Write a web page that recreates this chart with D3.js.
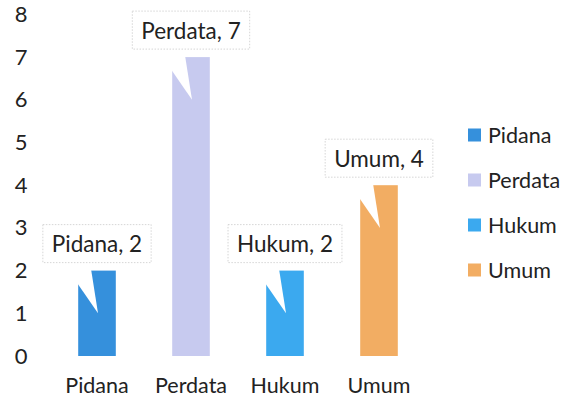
<!DOCTYPE html>
<html>
<head>
<meta charset="utf-8">
<script src="https://cdn.jsdelivr.net/npm/d3@7"></script>
<style>
    body { margin: 0; background: #fff; }
    text { font-family: Lato, "Open Sans", sans-serif; fill: #222; }
</style>
</head>
<body>
<svg width="575" height="405"></svg>
<script>
let categories = ["Pidana", "Perdata", "Hukum", "Umum"];
let values = [2, 7, 2, 4];
let colors = ["#3590dc", "#c7caef", "#3ba9ef", "#f2ad63"];
let yTicks = [0, 1, 2, 3, 4, 5, 6, 7, 8];

let svg = d3.select("svg");

let x = d3.scaleBand()
    .domain(categories)
    .range([50, 426])
    .paddingInner(0.6)
    .paddingOuter(0.3);

let y = d3.scaleLinear()
    .domain([0, 8])
    .range([356, 14.4]);

// y axis labels only, no line
let yAxis = svg.append("g")
    .attr("transform", "translate(28,0)")
    .call(d3.axisLeft(y).tickValues(yTicks).tickSize(0).tickPadding(0));
yAxis.select(".domain").remove();
yAxis.selectAll("text")
    .style("font-size", "22px")
    .attr("text-anchor", "middle")
    .attr("dx", "-7");

let xAxis = svg.append("g")
    .attr("transform", "translate(0,375)")
    .call(d3.axisBottom(x).tickSize(0).tickPadding(0));
xAxis.select(".domain").remove();
xAxis.selectAll("text")
    .style("font-size", "21.5px")
    .attr("dy", "0.85em");

let data = categories.map(function (c, i) { return { name: c, value: values[i], color: colors[i] }; });

svg.append("g")
    .selectAll("rect")
    .data(data)
    .enter()
    .append("rect")
    .attr("x", function (d) { return x(d.name); })
    .attr("y", function (d) { return y(d.value); })
    .attr("width", x.bandwidth())
    .attr("height", function (d) { return y(0) - y(d.value); })
    .attr("fill", function (d) { return d.color; });

// callouts
let callouts = svg.append("g")
    .selectAll("g")
    .data(data)
    .enter()
    .append("g")
    .attr("transform", function (d) {
        return "translate(" + (x(d.name) + x.bandwidth() / 2) + "," + y(d.value) + ")";
    });

callouts.append("path")
    .attr("d", function (d) {
        let tipY = y(d.value - 1) - y(d.value);
        return "M-34,-8 L-7,-8 L1," + tipY + " Z";
    })
    .attr("fill", "#fff");

callouts.append("text")
    .attr("y", -26)
    .attr("dy", "0.35em")
    .attr("text-anchor", "middle")
    .style("font-size", "22.5px")
    .text(function (d) { return d.name + ", " + d.value; })
    .each(function () {
        let bb = this.getBBox();
        d3.select(this.parentNode).insert("rect", "text")
            .attr("x", bb.x - 9)
            .attr("y", -46)
            .attr("width", bb.width + 18)
            .attr("height", 38)
            .attr("fill", "#fff")
            .attr("stroke", "#ccc")
            .attr("stroke-width", 0.8)
            .attr("stroke-dasharray", "1.5,1.5");
    });

// legend
let legend = svg.append("g")
    .selectAll("g")
    .data(data)
    .enter()
    .append("g")
    .attr("transform", function (d, i) { return "translate(468," + (135 + i * 45) + ")"; });

legend.append("rect")
    .attr("x", 0)
    .attr("y", -6.5)
    .attr("width", 13)
    .attr("height", 13)
    .attr("fill", function (d) { return d.color; });

legend.append("text")
    .attr("x", 20)
    .attr("dy", "0.35em")
    .style("font-size", "21.5px")
    .text(function (d) { return d.name; });
</script>
</body>
</html>
